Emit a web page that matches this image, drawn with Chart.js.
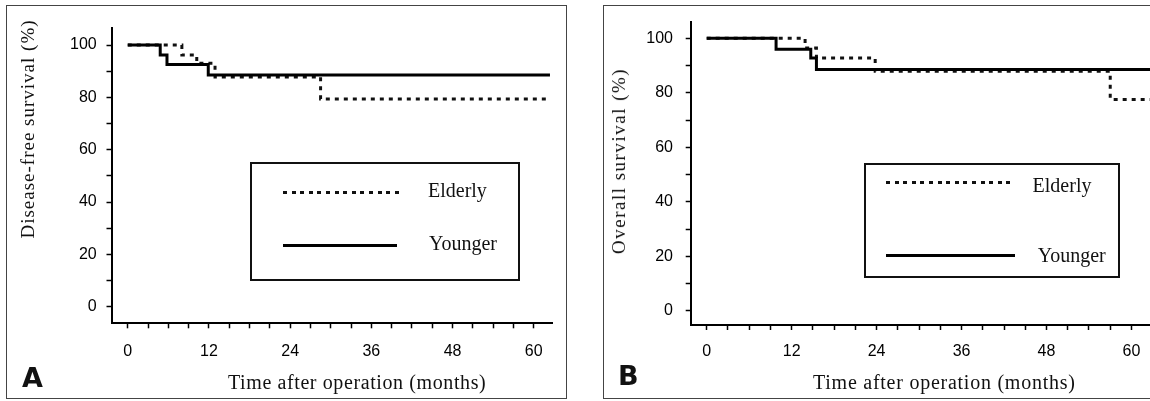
<!DOCTYPE html>
<html lang="en">
<head>
  <meta charset="UTF-8" />
  <title>Survival after operation: elderly vs younger</title>
  <script src="https://cdn.jsdelivr.net/npm/chart.js"></script>
  <style>
    body { margin: 0; width: 1150px; height: 401px; overflow: hidden; position: relative; background: #fff; color: #111; font-family: "Liberation Serif", serif; }
    canvas { position: absolute; top: 0; }
    .frame { position: absolute; border: 1.5px solid #444; box-sizing: border-box; }
    .txt { position: absolute; white-space: nowrap; font-size: 20px; line-height: 20px; }
    .ytitle { position: absolute; white-space: nowrap; font-size: 19px; line-height: 20px; transform: translate(-50%, -50%) rotate(-90deg); }
    .letter { position: absolute; font-family: "DejaVu Sans", sans-serif; font-weight: bold; font-size: 27px; line-height: 27px; }
    .legend { position: absolute; border: 2px solid #111; box-sizing: border-box; }
    .solid { position: absolute; height: 3px; background: #000; }
    .dotted { position: absolute; height: 3px; background: repeating-linear-gradient(90deg, #111 0 4px, transparent 4px 8.6px); }
  </style>
</head>
<body>
  <!-- panel frames -->
  <div class="frame" style="left:6px;top:5px;width:561px;height:394px"></div>
  <div class="frame" style="left:603px;top:5px;width:600px;height:394px"></div>

  <canvas id="chartA" width="570" height="401" style="left:0"></canvas>
  <canvas id="chartB" width="600" height="401" style="left:577px"></canvas>

  <!-- axis titles -->
  <div class="ytitle" style="left:27.5px;top:129px;letter-spacing:1px">Disease-free survival (%)</div>
  <div class="ytitle" style="left:619px;top:160.5px;letter-spacing:1.5px">Overall survival (%)</div>
  <div class="txt" style="left:228px;top:371.5px;letter-spacing:0.6px">Time after operation (months)</div>
  <div class="txt" style="left:813px;top:371.5px;letter-spacing:0.75px">Time after operation (months)</div>

  <!-- legends -->
  <div class="legend" style="left:250px;top:162px;width:270px;height:119px"></div>
  <div class="dotted" style="left:283px;top:190.5px;width:120px"></div>
  <div class="txt" style="left:428px;top:180px">Elderly</div>
  <div class="solid" style="left:283px;top:243.5px;width:114px"></div>
  <div class="txt" style="left:429px;top:233.3px">Younger</div>

  <div class="legend" style="left:864px;top:163px;width:256px;height:115px"></div>
  <div class="dotted" style="left:886px;top:181px;width:124px"></div>
  <div class="txt" style="left:1032.6px;top:175px">Elderly</div>
  <div class="solid" style="left:886px;top:253.5px;width:129px"></div>
  <div class="txt" style="left:1037.8px;top:245px">Younger</div>

  <div class="letter" style="left:22px;top:364px">A</div>
  <div class="letter" style="left:618px;top:362px">B</div>

  <script>
    // tick labels
    const monthTicks = [0, 12, 24, 36, 48, 60];
    const pctTicks = [0, 20, 40, 60, 80, 100];

    // A: disease-free survival (Kaplan-Meier steps)
    const dfsElderlyMonths = [0, 8, 10.2, 12.9, 28.5, 62.4];
    const dfsElderlyPct    = [100, 96.2, 93, 87.8, 79.4, 79.4];
    const dfsYoungerMonths = [0, 4.8, 5.8, 11.9, 62.4];
    const dfsYoungerPct    = [100, 96.2, 92.6, 88.5, 88.5];

    // B: overall survival
    const osElderlyMonths = [0, 13.9, 15.5, 23.8, 57, 62.9];
    const osElderlyPct    = [100, 96.5, 92.8, 87.9, 77.6, 77.6];
    const osYoungerMonths = [0, 9.8, 14.7, 15.5, 62.9];
    const osYoungerPct    = [100, 96, 92.8, 88.6, 88.6];

    function points(xs, ys) {
      return xs.map((x, i) => ({ x: x, y: ys[i] }));
    }

    const tickFont = { family: "Liberation Sans", size: 16 };

    function makeChart(id, elderly, younger, o) {
      return new Chart(document.getElementById(id), {
        type: "line",
        data: {
          datasets: [
            { label: "Younger", data: younger, stepped: "before", borderColor: "#000", borderWidth: 3, pointRadius: 0, fill: false },
            { label: "Elderly", data: elderly, stepped: "before", borderColor: "#111", borderWidth: 3, borderDash: [4, 5], borderCapStyle: "butt", pointRadius: 0, fill: false }
          ]
        },
        options: {
          responsive: false,
          animation: false,
          devicePixelRatio: 1,
          layout: { padding: { left: 0, top: o.top, right: o.right, bottom: 0 } },
          plugins: { legend: { display: false }, tooltip: { enabled: false } },
          scales: {
            x: {
              type: "linear", min: o.xmin, max: o.xmax,
              afterFit: s => { s.height = o.xh; },
              ticks: {
                stepSize: 3, autoSkip: false, maxRotation: 0, includeBounds: false,
                padding: o.xpad, font: tickFont, color: "#000",
                callback: v => monthTicks.includes(v) ? String(v) : ""
              },
              grid: { drawOnChartArea: false, drawTicks: true, tickLength: 5, tickColor: "#000", tickWidth: 1.5 },
              border: { display: true, color: "#000", width: 2 }
            },
            y: {
              min: o.ymin, max: o.ymax,
              afterFit: s => { s.width = o.yw; },
              ticks: {
                stepSize: 10, autoSkip: false, includeBounds: false,
                padding: o.ypad, font: tickFont, color: "#000",
                callback: v => pctTicks.includes(v) ? String(v) : ""
              },
              grid: { drawOnChartArea: false, drawTicks: true, tickLength: 5, tickColor: "#000", tickWidth: 1.5 },
              border: { display: true, color: "#000", width: 2 }
            }
          }
        }
      });
    }

    makeChart("chartA", points(dfsElderlyMonths, dfsElderlyPct), points(dfsYoungerMonths, dfsYoungerPct),
      { top: 28, right: 18, xh: 77.7, yw: 111.5, xmin: -2.4, xmax: 62.7, ymin: -6.3, ymax: 106.5, xpad: 13.8, ypad: 9.8 });

    makeChart("chartB", points(osElderlyMonths, osElderlyPct), points(osYoungerMonths, osYoungerPct),
      { top: 17, right: 25, xh: 76, yw: 113.7, xmin: -2.26, xmax: 62.9, ymin: -5.2, ymax: 105.9, xpad: 12.4, ypad: 12.7 });
  </script>
</body>
</html>
